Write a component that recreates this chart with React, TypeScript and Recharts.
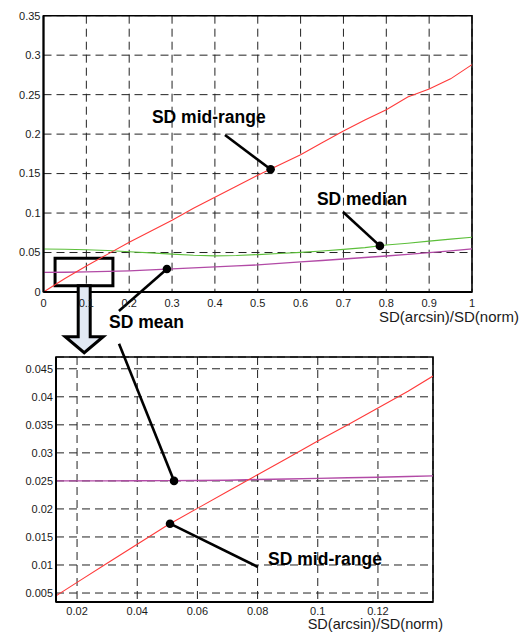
import React from 'react';
import {
  LineChart,
  Line,
  XAxis,
  YAxis,
  CartesianGrid,
  ReferenceLine,
  ReferenceDot,
  ReferenceArea,
  Label,
} from 'recharts';

// ---------- top panel data ----------
const topX = [0, 0.05, 0.1, 0.15, 0.2, 0.25, 0.3, 0.35, 0.4, 0.45, 0.5, 0.55, 0.6, 0.65, 0.7, 0.75, 0.8, 0.85, 0.9, 0.95, 1.0];
const topMidRange = [0, 0.017, 0.033, 0.048, 0.063, 0.077, 0.091, 0.106, 0.12, 0.134, 0.148, 0.161, 0.174, 0.189, 0.204, 0.218, 0.231, 0.247, 0.257, 0.27, 0.288];
const topMedian = [0.0545, 0.0542, 0.0536, 0.0525, 0.051, 0.0495, 0.048, 0.0465, 0.0458, 0.0462, 0.0474, 0.0488, 0.0502, 0.052, 0.054, 0.0562, 0.0595, 0.0618, 0.0645, 0.067, 0.0693];
const topMean = [0.0248, 0.025, 0.0255, 0.0261, 0.0268, 0.0279, 0.0292, 0.0305, 0.0318, 0.033, 0.0343, 0.0362, 0.0381, 0.0399, 0.0418, 0.0437, 0.0456, 0.0477, 0.0498, 0.0521, 0.0545];
const topXTicks = [0, 0.1, 0.2, 0.3, 0.4, 0.5, 0.6, 0.7, 0.8, 0.9, 1];
const topYTicks = [0, 0.05, 0.1, 0.15, 0.2, 0.25, 0.3, 0.35];
const topXDomain = [0, 1];
const topYDomain = [0, 0.35];

// ---------- zoomed panel data ----------
const zoomX = [0.013, 0.02, 0.03, 0.04, 0.05, 0.06, 0.07, 0.08, 0.09, 0.1, 0.11, 0.12, 0.13, 0.1383];
const zoomMidRange = [0.0045, 0.0069, 0.0103, 0.0137, 0.0171, 0.0201, 0.0231, 0.0261, 0.0291, 0.0321, 0.035, 0.038, 0.041, 0.0437];
const zoomMean = [0.025, 0.025, 0.025, 0.02502, 0.02505, 0.02508, 0.02512, 0.02525, 0.02535, 0.02545, 0.02555, 0.02565, 0.02578, 0.0259];
const zoomXTicks = [0.02, 0.04, 0.06, 0.08, 0.1, 0.12];
const zoomYTicks = [0.005, 0.01, 0.015, 0.02, 0.025, 0.03, 0.035, 0.04, 0.045];
const zoomXDomain = [0.013, 0.1383];
const zoomYDomain = [0.0034, 0.0471];

const axisTitle = 'SD(arcsin)/SD(norm)';

// annotations (data coordinates of each panel)
const topNotes = [
  { text: 'SD mid-range', tx: 0.253, ty: 0.214, from: [0.4235, 0.1989], to: [0.53, 0.1555] },
  { text: 'SD median', tx: 0.638, ty: 0.11, from: [0.699, 0.1013], to: [0.785, 0.0584] },
  { text: 'SD mean', tx: 0.153, ty: -0.0456, from: [0.176, -0.0241], to: [0.288, 0.0291] },
];
const zoomNotes = [
  { text: '', tx: 0, ty: 0, from: [0.03395, 0.04946], to: [0.05223, 0.025] },
  { text: 'SD mid-range', tx: 0.0835, ty: 0.01, from: [0.0801, 0.009643], to: [0.0509, 0.01737] },
];
const zoomBox = { x1: 0.027, x2: 0.162, y1: 0.008, y2: 0.0427 };
const arrowAnchor = { x: 0.095, y: 0.008 };

const topRows = topX.map((x, i) => ({ x, mid: topMidRange[i], median: topMedian[i], mean: topMean[i] }));
const zoomRows = zoomX.map((x, i) => ({ x, mid: zoomMidRange[i], mean: zoomMean[i] }));

const FONT = '"Liberation Sans", Arial, Helvetica, sans-serif';
const RED = '#ff3a3a';
const GREEN = '#5cbf3a';
const MAGENTA = '#b24aa6';

const tickStyle = { fontSize: 11, fill: '#1a1a1a', fontFamily: FONT };

const boldText = (text: string) => (props: any) => (
  <text
    x={props.cx}
    y={props.cy}
    fontFamily={FONT}
    fontWeight="bold"
    fontSize={17.5}
    fill="#000"
  >
    {text}
  </text>
);

const dotShape = (props: any) => <circle cx={props.cx} cy={props.cy} r={4.3} fill="#000" />;

const arrowShape = (props: any) => {
  const cx = props.cx;
  const cy = props.cy;
  const pts = [
    [-6, 0], [6, 0], [6, 51], [19, 51], [0, 67], [-19, 51], [-6, 51],
  ].map(([dx, dy]) => `${cx + dx},${cy + dy}`).join(' ');
  return <polygon points={pts} fill="#e2e9f3" stroke="#000" strokeWidth={3} strokeLinejoin="miter" />;
};

const titleContent = (dxRight: number, dy: number, size: number) => (p: any) => {
  const vb = p.viewBox || {};
  return (
    <text
      x={vb.x + vb.width + dxRight}
      y={vb.y + dy}
      textAnchor="end"
      fontFamily={FONT}
      fontSize={size}
      fill="#1a1a1a"
    >
      {axisTitle}
    </text>
  );
};

function renderNotes(notes: typeof topNotes) {
  const out: React.ReactNode[] = [];
  notes.forEach((n, i) => {
    out.push(
      <ReferenceLine
        key={`l${i}`}
        segment={[{ x: n.from[0], y: n.from[1] }, { x: n.to[0], y: n.to[1] }]}
        stroke="#000"
        strokeWidth={2.6}
        ifOverflow="visible"
      />
    );
    out.push(
      <ReferenceDot key={`d${i}`} x={n.to[0]} y={n.to[1]} r={4.3} ifOverflow="visible" shape={dotShape} />
    );
    if (n.text) {
      out.push(
        <ReferenceDot key={`t${i}`} x={n.tx} y={n.ty} r={1} ifOverflow="visible" shape={boldText(n.text)} />
      );
    }
  });
  return out;
}

export default function App() {
  return (
    <div style={{ position: 'absolute', left: 0, top: 0, width: 519, height: 632, background: '#fff', overflow: 'hidden' }}>
      <div style={{ position: 'absolute', left: 0, top: 0 }}>
        <LineChart
          width={519}
          height={360}
          data={topRows}
          margin={{ top: 15.7, right: 47, bottom: 38, left: 3.5 }}
        >
          <CartesianGrid stroke="#222" strokeDasharray="8 5" strokeWidth={1} />
          <XAxis
            dataKey="x"
            type="number"
            domain={topXDomain}
            ticks={topXTicks}
            tick={tickStyle}
            tickLine={false}
            tickSize={5}
            axisLine={{ stroke: '#000', strokeWidth: 2 }}
            height={30}
            interval={0}
          >
            <Label content={titleContent(47, 30, 15)} />
          </XAxis>
          <YAxis
            type="number"
            domain={topYDomain}
            ticks={topYTicks}
            tick={tickStyle}
            tickLine={false}
            tickSize={1}
            axisLine={{ stroke: '#000', strokeWidth: 2 }}
            width={40}
            interval={0}
          />
          <ReferenceArea x1={0} x2={1} y1={0} y2={0.35} fill="none" stroke="#000" strokeWidth={1.6} />
          <Line dataKey="median" stroke={GREEN} strokeWidth={1.1} dot={false} isAnimationActive={false} type="linear" />
          <Line dataKey="mean" stroke={MAGENTA} strokeWidth={1.3} dot={false} isAnimationActive={false} type="linear" />
          <Line dataKey="mid" stroke={RED} strokeWidth={1.1} dot={false} isAnimationActive={false} type="linear" />
          <ReferenceArea
            x1={zoomBox.x1}
            x2={zoomBox.x2}
            y1={zoomBox.y1}
            y2={zoomBox.y2}
            fill="none"
            fillOpacity={0}
            stroke="#000"
            strokeWidth={3}
          />
          <ReferenceDot x={arrowAnchor.x} y={arrowAnchor.y} r={1} ifOverflow="visible" shape={arrowShape} />
          {renderNotes(topNotes)}
        </LineChart>
      </div>
      <div style={{ position: 'absolute', left: 0, top: 330 }}>
        <LineChart
          width={519}
          height={302}
          data={zoomRows}
          margin={{ top: 27, right: 86, bottom: 0, left: 4 }}
        >
          <CartesianGrid stroke="#222" strokeDasharray="8 5" strokeWidth={1} />
          <XAxis
            dataKey="x"
            type="number"
            domain={zoomXDomain}
            ticks={zoomXTicks}
            tick={tickStyle}
            tickLine={false}
            tickSize={3}
            axisLine={{ stroke: '#000', strokeWidth: 2 }}
            height={30}
            interval={0}
            allowDataOverflow
          >
            <Label content={titleContent(10, 27, 14.5)} />
          </XAxis>
          <YAxis
            type="number"
            domain={zoomYDomain}
            ticks={zoomYTicks}
            tick={tickStyle}
            tickLine={false}
            tickSize={1}
            axisLine={{ stroke: '#000', strokeWidth: 2 }}
            width={52}
            interval={0}
            allowDataOverflow
          />
          <ReferenceArea
            x1={zoomXDomain[0]}
            x2={zoomXDomain[1]}
            y1={zoomYDomain[0]}
            y2={zoomYDomain[1]}
            fill="none"
            stroke="#000"
            strokeWidth={1.6}
          />
          <Line dataKey="mean" stroke={MAGENTA} strokeWidth={1.4} dot={false} isAnimationActive={false} type="linear" />
          <Line dataKey="mid" stroke={RED} strokeWidth={1.1} dot={false} isAnimationActive={false} type="linear" />
          {renderNotes(zoomNotes)}
        </LineChart>
      </div>
    </div>
  );
}
